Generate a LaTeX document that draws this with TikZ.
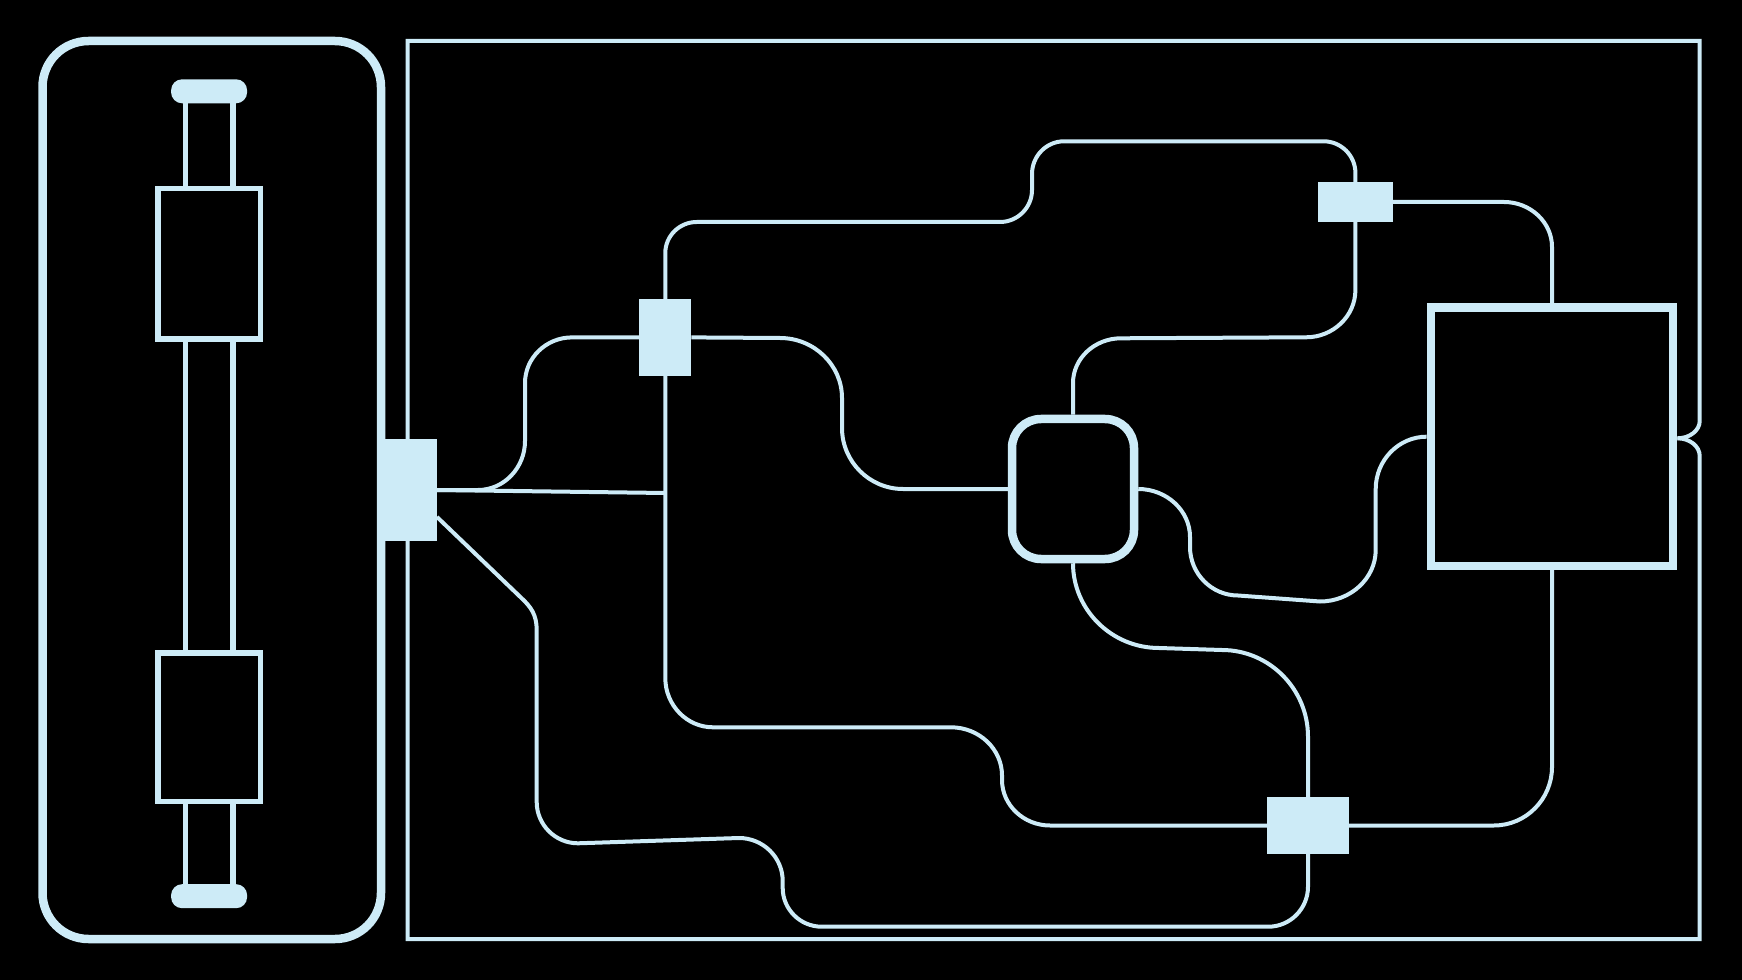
\documentclass[tikz,border=0pt]{standalone}
\usetikzlibrary{calc}
\definecolor{ice}{HTML}{CDEBF7}
\def\px{0.75pt}
\tikzset{
  solidbox/.style={draw=none,fill=ice,rectangle,inner sep=0pt,outer sep=0pt},
  hollowbox/.style={draw=ice,fill=black,rectangle,inner sep=0pt},
  heavy/.style={line width=8.5*\px},
  medium/.style={line width=5.5*\px},
  wire/.style={draw=ice,line width=4*\px,line join=miter},
  rail/.style={draw=ice,medium},
  hv/.style={to path={.. controls ($(\tikztostart)!0.55!(\tikztotarget |- \tikztostart)$) and ($(\tikztotarget)!0.55!(\tikztotarget |- \tikztostart)$) .. (\tikztotarget)}},
  vh/.style={to path={.. controls ($(\tikztostart)!0.55!(\tikztostart |- \tikztotarget)$) and ($(\tikztotarget)!0.55!(\tikztostart |- \tikztotarget)$) .. (\tikztotarget)}},
}
\begin{document}
\begin{tikzpicture}[x=0.75pt,y=-0.75pt]
\fill[black] (0,0) rectangle (1742,980);
\useasboundingbox (0,0) rectangle (1742,980);

% left panel
\node[hollowbox,heavy,rounded corners=46*\px,fill=none,minimum width=338.5*\px,minimum height=898*\px] (panel) at (211.75,490) {};
\node[solidbox,rounded corners=11*\px,minimum width=76*\px,minimum height=24*\px] (captop) at (209.1,91.3) {};
\node[solidbox,rounded corners=11*\px,minimum width=76*\px,minimum height=24*\px] (capbot) at (209.1,896.2) {};
\node[hollowbox,medium,minimum width=102.3*\px,minimum height=150.4*\px] (boxtop) at (209.1,263.8) {};
\node[hollowbox,medium,minimum width=102.3*\px,minimum height=148.7*\px] (boxbot) at (209.1,727.35) {};
\foreach \d in {-23.85,23.85}{
  \draw[rail] ($(captop.south)+(\d,-1)$) -- ($(boxtop.north)+(\d,0)$);
  \draw[rail] ($(boxtop.south)+(\d,0)$) -- ($(boxbot.north)+(\d,0)$);
  \draw[rail] ($(boxbot.south)+(\d,0)$) -- ($(capbot.north)+(\d,1)$);
}

% main nodes
\node[solidbox,minimum width=59*\px,minimum height=102*\px] (A) at (407.5,490) {};
\node[solidbox,minimum width=52*\px,minimum height=77*\px] (B) at (665.3,337.4) {};
\node[solidbox,minimum width=75*\px,minimum height=40*\px] (E) at (1355.4,202) {};
\node[solidbox,minimum width=81.4*\px,minimum height=56.4*\px] (D) at (1308,825.5) {};
\node[hollowbox,heavy,rounded corners=29*\px,minimum width=122*\px,minimum height=140*\px] (C) at (1073,489) {};
\node[hollowbox,heavy,minimum width=242.3*\px,minimum height=258.5*\px] (F) at (1552,436.7) {};
\coordinate (fork) at ($(F.east)+(0,1.6)$);
\coordinate (junction) at (665.3,493);

% outer frame
\draw[wire] (A.north) -- (407.5,41) -- (1699.7,41) -- (1699.7,421) to[vh] (fork);
\draw[wire] (fork) to[hv] (1699.7,456) -- (1699.7,939) -- (407.5,939) -- (A.south);

% connectors
\draw[wire] (A.east) -- (478,490) to[hv] (525,441) -- (525,383) to[vh] (572,337.4) -- (B.west);
\draw[wire] (A.east) -- (junction);
\draw[wire] ($(A.east)+(0,27)$) -- (521.7,598.3) .. controls (531,607) and (536.7,615) .. (536.7,630) -- (536.7,802) to[vh] (578,843.3)
  -- (739,838) to[hv] (782.7,881) -- (782.7,888) to[vh] (821.7,926.7) -- (1268.3,926.7) to[hv] (D.south |- 0,886.7) -- (D.south);
\draw[wire] (B.north) -- (665.3,253) to[vh] (696.7,222) -- (1000,222) to[hv] (1032,190) -- (1032,174)
  to[vh] (1064,141.3) -- (1323.6,141.3) to[hv] (1355.4,173) -- (E.north);
\draw[wire] (B.east) -- (780,338) to[hv] (842,398) -- (842,428) to[vh] (903,489) -- (C.west);
\draw[wire] (B.south) -- (665.3,678) to[vh] (713,727.3) -- (951,727.3) to[hv] (1002,775.5) -- (1002,780)
  to[vh] (1050,825.5) -- (D.west);
\draw[wire] (E.south) -- (1355.4,290) to[vh] (1306,337.3) -- (1121,338.3) to[hv] (C.north |- 0,383) -- (C.north);
\draw[wire] (E.east) -- (1504,202) to[hv] (F.north |- 0,247) -- (F.north);
\draw[wire] (C.east) to[hv] (1190,537) -- (1190,547) to[vh] (1238,595.5) -- (1320,601.5) to[hv] (1375.7,550) -- (1375.7,489) to[vh] (F.west);
\draw[wire] (C.south) to[vh] (1159,648) -- (1222,650) to[hv] (D.north |- 0,736.7) -- (D.north);
\draw[wire] (D.east) -- (1494,825.5) to[hv] (F.south |- 0,767) -- (F.south);
\end{tikzpicture}
\end{document}
